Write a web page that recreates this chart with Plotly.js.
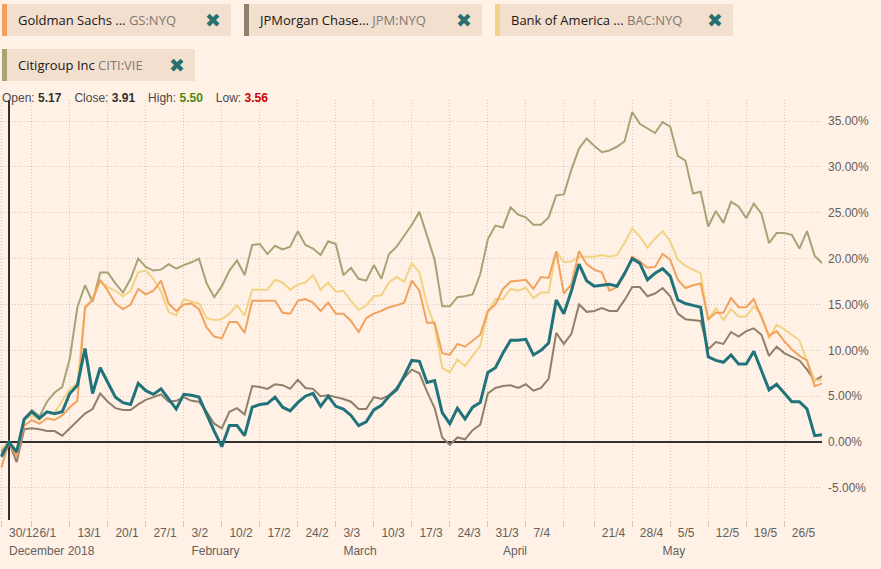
<!DOCTYPE html>
<html>
<head>
<meta charset="utf-8">
<script src="https://cdn.plot.ly/plotly-3.0.1.min.js"></script>
<style>
  body { margin: 0; background: #fff1e5; }
  #wrap { position: relative; width: 881px; height: 569px; overflow: hidden; }
  #chart { position: absolute; left: 0; top: 0; width: 881px; height: 569px; }
  .chip {
    position: absolute; height: 32px; background: #f2dfce;
    font-family: "Open Sans", sans-serif; font-size: 13px; color: #1a1817;
    line-height: 32px; white-space: nowrap; box-sizing: border-box;
    padding-left: 16px; z-index: 2;
  }
  .chip .bar { position: absolute; left: 0; top: 0; width: 5px; height: 100%; }
  .chip .ticker { color: #7f7a76; }
  .chip .close {
    position: absolute; right: 10px; top: 0; color: #2a6f6f;
    font-family: "DejaVu Sans", sans-serif; font-size: 19px; font-weight: bold;
  }
  #ohlc {
    position: absolute; left: 2px; top: 91px; z-index: 2;
    font-family: "Liberation Sans", Arial, sans-serif; font-size: 12px; color: #4d4845;
  }
  #ohlc span { margin-right: 13px; }
  #ohlc b { color: #33302e; }
</style>
</head>
<body>
<div id="wrap">
  <div id="chart"></div>
  <div id="chips"></div>
  <div id="ohlc"></div>
</div>
<script>
// percentage change since 31 Dec 2018, one value per trading day (first value = 28 Dec)
const mainValues = [
  -1.6, 0, -1.1, 2.5, 3.3, 2.6, 3.3, 3.1, 3.3, 5.3, 6.2, 10.2, 5.3, 8.1, 6.5, 4.9, 4.3, 4.1, 6.4, 5.6,
  5.2, 5.8, 4.7, 3.6, 5.2, 5.1, 4.9, 3.0, 1.2, -0.5, 1.8, 1.8, 0.7, 3.8, 4.1, 4.2, 4.9, 3.8, 3.4, 4.3,
  5.0, 5.3, 3.9, 5.0, 3.9, 3.6, 2.9, 1.8, 2.2, 3.5, 4.0, 5.0, 5.7, 7.2, 8.9, 8.8, 6.5, 6.7, 3.2, 2.0,
  3.7, 2.5, 3.8, 4.3, 7.6, 8.1, 9.7, 11.1, 11.1, 11.2, 9.5, 10.0, 10.8, 15.5, 14.0, 16.5, 19.4, 17.6, 17.0, 17.1,
  17.2, 17.0, 18.4, 20.0, 19.5, 17.7, 18.4, 18.9, 18.1, 15.5, 15.1, 14.9, 14.7, 9.3, 8.9, 8.7, 9.5, 8.5, 8.5, 9.9,
  7.7, 5.7, 6.3, 5.3, 4.4, 4.4, 3.6, 0.7, 0.8
];
const gsValues = [
  -2.8, 0, -1.6, 1.8, 2.4, 2.0, 2.6, 2.4, 2.9, 3.8, 4.5, 14.7, 15.5, 17.7, 16.5, 15.1, 14.5, 15.0, 16.7, 16.1,
  16.5, 17.6, 15.1, 14.3, 15.0, 15.1, 14.5, 12.5, 11.5, 11.3, 13.1, 13.1, 11.9, 15.4, 15.4, 15.4, 15.4, 14.1, 14.0, 15.4,
  15.6, 15.2, 14.3, 15.2, 14.0, 14.0, 13.2, 12.0, 13.5, 14.0, 14.3, 14.7, 14.9, 15.2, 17.6, 16.5, 13.0, 13.0, 9.7, 9.5,
  10.7, 10.4, 11.1, 11.7, 14.3, 15.0, 16.7, 17.5, 17.6, 17.7, 16.7, 18.0, 17.9, 20.8, 16.2, 17.2, 20.8, 19.4, 18.8, 18.5,
  16.5, 16.9, 18.2, 20.2, 19.7, 19.0, 19.1, 20.5, 19.9, 17.7, 16.8, 17.1, 17.3, 13.4, 14.1, 14.1, 15.7, 14.7, 14.7, 15.6,
  13.6, 11.6, 12.1, 11.0, 10.1, 9.4, 8.9, 6.1, 6.4
];
const jpmValues = [
  -1.3, 0, -2.2, 1.4, 1.5, 1.4, 1.2, 1.2, 0.7, 1.5, 2.4, 3.1, 3.6, 5.3, 4.4, 3.7, 3.5, 3.5, 4.1, 4.6,
  4.9, 5.2, 4.4, 4.5, 4.9, 4.5, 4.4, 3.3, 2.0, 1.5, 3.3, 3.7, 3.0, 6.1, 6.0, 5.8, 6.3, 6.2, 5.8, 6.8,
  5.9, 5.8, 5.0, 5.1, 4.9, 4.7, 4.4, 3.6, 3.6, 4.9, 4.7, 5.1, 5.9, 7.0, 7.9, 7.5, 5.5, 3.7, 0.5, -0.3,
  0.5, 0.3, 1.3, 1.9, 5.3, 5.9, 6.1, 6.2, 5.9, 6.3, 5.6, 5.9, 6.9, 11.9, 10.7, 11.8, 15.0, 14.2, 14.3, 14.6,
  14.3, 14.3, 15.5, 16.9, 16.9, 15.9, 16.2, 16.8, 15.9, 14.0, 13.4, 13.3, 13.2, 10.1, 10.9, 10.7, 12.0, 11.5, 12.1, 12.4,
  11.7, 9.4, 10.4, 9.7, 9.3, 8.9, 7.9, 6.7, 7.2
];
const bacValues = [
  -0.7, 0, -1.3, 2.4, 2.9, 2.4, 3.3, 3.2, 4.5, 5.8, 6.4, 14.5, 15.6, 17.5, 16.9, 16.5, 15.9, 16.5, 18.5, 18.7,
  17.8, 16.4, 14.2, 13.8, 15.6, 15.3, 15.1, 13.5, 13.3, 13.4, 14.0, 14.9, 13.8, 16.6, 16.6, 16.6, 17.7, 17.4, 16.6, 17.2,
  17.4, 18.2, 16.6, 17.4, 16.4, 16.5, 15.4, 14.4, 14.9, 15.9, 16.0, 17.4, 18.0, 17.5, 19.5, 18.5, 15.0, 12.7, 8.1, 7.6,
  9.0, 8.3, 9.4, 10.5, 14.1, 15.6, 15.6, 16.7, 16.5, 16.8, 15.7, 16.3, 16.3, 20.8, 19.6, 19.7, 20.2, 20.2, 20.2, 20.4,
  20.2, 20.4, 21.7, 23.3, 22.4, 21.2, 22.2, 23.0, 21.9, 19.9, 19.2, 18.8, 18.4, 13.3, 14.6, 13.3, 14.5, 13.7, 13.7, 14.8,
  13.9, 11.3, 12.8, 12.3, 11.7, 11.1, 8.8, 6.7, 6.8
];
const citiValues = [
  -1.0, 0, -1.5, 2.5, 3.5, 2.8, 4.4, 5.4, 6.0, 9.1, 14.7, 17.1, 15.3, 18.5, 18.5, 17.3, 16.3, 17.8, 20.0, 19.1,
  18.7, 18.8, 19.4, 18.9, 19.3, 19.6, 20.0, 17.3, 15.8, 17.0, 18.7, 19.8, 18.2, 21.5, 21.6, 20.5, 21.4, 21.0, 21.3, 23.0,
  21.5, 21.1, 20.4, 21.9, 21.6, 18.2, 19.0, 17.8, 17.6, 19.3, 17.8, 20.5, 21.3, 22.5, 23.7, 25.1, 22.5, 19.9, 14.8, 14.8,
  15.8, 15.9, 16.1, 18.3, 22.1, 23.6, 23.4, 25.6, 24.8, 24.5, 23.7, 23.7, 24.5, 26.9, 27.0, 29.7, 32.0, 33.1, 32.3, 31.6,
  31.8, 32.2, 32.8, 36.0, 34.7, 34.2, 33.7, 34.9, 34.4, 31.2, 30.7, 27.1, 27.3, 23.5, 25.2, 23.9, 26.2, 25.7, 24.4, 26.0,
  24.9, 21.7, 22.8, 22.8, 22.6, 21.1, 23.0, 20.3, 19.5
];

// trading-day offsets (0 = 31 Dec 2018) of the last day of each week, and the week labels
const weekEndDay = [-1, 3, 8, 13, 18, 23, 28, 33, 38, 43, 48, 53, 58, 63, 68, 73, 77, 82, 87, 92, 97, 102];
const weekLabels = ['30/12', '6/1', '13/1', '20/1', '27/1', '3/2', '10/2', '17/2', '24/2', '3/3', '10/3',
  '17/3', '24/3', '31/3', '7/4', '', '21/4', '28/4', '5/5', '12/5', '19/5', '26/5'];
const monthDay = [0, 24, 44, 65, 86];
const monthLabels = ['December 2018', 'February', 'March', 'April', 'May'];

const yTicks = [-5, 0, 5, 10, 15, 20, 25, 30, 35];
const yTickLabels = ['-5.00%', '0.00%', '5.00%', '10.00%', '15.00%', '20.00%', '25.00%', '30.00%', '35.00%'];

const comparisons = [
  {name: 'Goldman Sachs ...', ticker: 'GS:NYQ', values: gsValues, color: '#f2a25e'},
  {name: 'JPMorgan Chase...', ticker: 'JPM:NYQ', values: jpmValues, color: '#8f7f6b'},
  {name: 'Bank of America ...', ticker: 'BAC:NYQ', values: bacValues, color: '#f1d383'},
  {name: 'Citigroup Inc', ticker: 'CITI:VIE', values: citiValues, color: '#a5a476'}
];
const ohlc = [['Open', '5.17', '#33302e'], ['Close', '3.91', '#33302e'], ['High', '5.50', '#4f8a10'], ['Low', '3.56', '#cc0000']];

const dayOffset = mainValues.map((v, i) => i - 1);

// the chips above the chart
const chipBoxes = [[2, 4, 229], [244, 4, 238], [495, 4, 238], [2, 49, 193]];
let chipHtml = '';
comparisons.forEach(function(c, i) {
  const b = chipBoxes[i];
  chipHtml += '<div class="chip" style="left:' + b[0] + 'px;top:' + b[1] + 'px;width:' + b[2] + 'px">'
    + '<div class="bar" style="background:' + c.color + '"></div>'
    + c.name + ' <span class="ticker">' + c.ticker + '</span>'
    + '<span class="close">\u2716</span></div>';
});
document.getElementById('chips').innerHTML = chipHtml;
document.getElementById('ohlc').innerHTML = ohlc.map(function(o) {
  return '<span>' + o[0] + ': <b style="color:' + o[2] + '">' + o[1] + '</b></span>';
}).join('');

// draw order: olive, taupe, yellow, orange, then the main line on top
const drawOrder = [3, 1, 2, 0];
const data = drawOrder.map(function(i) {
  const c = comparisons[i];
  return {
    name: c.ticker, x: dayOffset, y: c.values, type: 'scatter', mode: 'lines',
    line: {color: c.color, width: 2}, hoverinfo: 'skip'
  };
});
data.push({
  name: 'main', x: dayOffset, y: mainValues, type: 'scatter', mode: 'lines',
  line: {color: '#20737a', width: 3}, hoverinfo: 'skip'
});
// empty traces to hold the label axes
data.push({x: [0], y: [0], xaxis: 'x2', mode: 'none', hoverinfo: 'skip'});
data.push({x: [0], y: [0], xaxis: 'x3', mode: 'none', hoverinfo: 'skip'});

const xRange = [-1.184, 106.97];
const labelFont = {family: 'Liberation Sans, Arial, sans-serif', size: 12, color: '#66605c'};
const gridColor = 'rgba(110, 95, 85, 0.28)';

const layout = {
  width: 881,
  height: 569,
  margin: {l: 0, r: 59, t: 100, b: 49},
  paper_bgcolor: '#fff1e5',
  plot_bgcolor: '#fff1e5',
  showlegend: false,
  xaxis: {
    range: xRange,
    tickmode: 'array',
    tickvals: weekEndDay,
    showticklabels: false,
    ticks: 'outside', ticklen: 6, tickcolor: gridColor,
    showgrid: true, gridcolor: gridColor, griddash: '1px,2px',
    zeroline: true, zerolinecolor: '#33302e', zerolinewidth: 1.3,
    fixedrange: true
  },
  xaxis2: {
    overlaying: 'x', matches: 'x', anchor: 'y', side: 'bottom',
    range: xRange,
    tickmode: 'array',
    tickvals: weekEndDay.map(d => d + 1),
    ticktext: weekLabels,
    tickangle: 0,
    ticklabelposition: 'outside right',
    ticks: '', showgrid: false, zeroline: false,
    ticklabelstandoff: 4,
    tickfont: labelFont
  },
  xaxis3: {
    overlaying: 'x', matches: 'x', anchor: 'y', side: 'bottom',
    range: xRange,
    tickmode: 'array',
    tickvals: monthDay,
    ticktext: monthLabels,
    tickangle: 0,
    ticklabelposition: 'outside right',
    ticks: '', showgrid: false, zeroline: false,
    ticklabelstandoff: 22,
    tickfont: labelFont
  },
  yaxis: {
    range: [-8.5, 37.3],
    side: 'right',
    tickmode: 'array',
    tickvals: yTicks,
    ticktext: yTickLabels,
    ticks: '',
    ticklabelstandoff: 5,
    tickfont: labelFont,
    showgrid: true, gridcolor: gridColor, griddash: '1px,2px',
    zeroline: true, zerolinecolor: '#33302e', zerolinewidth: 1.3,
    fixedrange: true
  }
};

Plotly.newPlot('chart', data, layout, {displayModeBar: false, staticPlot: true});
</script>
</body>
</html>
